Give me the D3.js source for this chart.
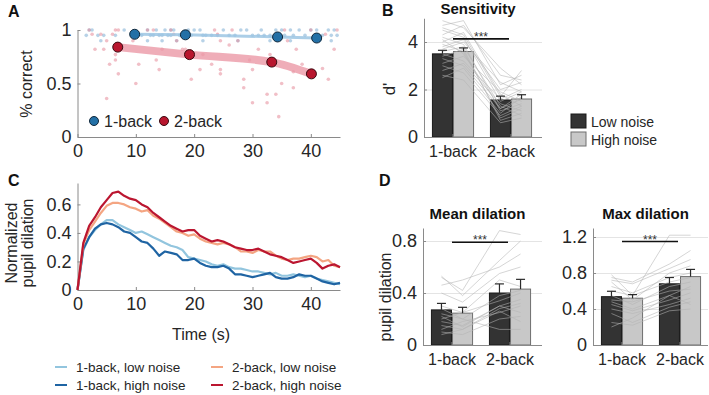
<!DOCTYPE html>
<html>
<head>
<meta charset="utf-8">
<script src="https://cdn.jsdelivr.net/npm/d3@7"></script>
<style>
  body { margin: 0; background: #fff; }
  svg { display: block; font-family: "Liberation Sans", Arial, sans-serif; }
</style>
</head>
<body>
<svg id="fig" width="709" height="395"></svg>
<script>
// ---- panel A: accuracy per trial position ----
const blueDotX = [2, 2.5, 8, 12, 13.5, 15, 16, 16.5, 19, 20, 21, 25, 28, 29, 31.5, 34, 35, 36.5, 38, 40, 41, 43, 44,
  1.5, 3.5, 4.5, 6.5, 9.5, 11, 12.5, 13, 14, 14.5, 15.5, 16, 17.5, 19.5, 21.5, 22, 23, 24, 26, 27, 30, 31, 32, 33, 35.5, 37, 39, 42, 43.5, 44.5,
  4, 12, 14.5, 17, 21.5, 27.5, 33, 36.5, 41.5, 43.5];
const blueDotY = [1, 1, 1, 1, 1, 1, 1, 1, 1, 1, 1, 1, 1, 1, 1, 1, 1, 1, 1, 1, 1, 1, 1,
  0.95, 0.95, 0.95, 0.95, 0.95, 0.95, 0.95, 0.95, 0.95, 0.95, 0.95, 0.95, 0.95, 0.95, 0.95, 0.95, 0.95, 0.95, 0.95, 0.95, 0.95, 0.95, 0.95, 0.95, 0.95, 0.95, 0.95, 0.95, 0.95, 0.95,
  0.9, 0.9, 0.9, 0.9, 0.9, 0.9, 0.9, 0.9, 0.9, 0.9];
const redDotX = [2, 2.5, 3, 4, 4.5, 5, 5.5, 5, 6, 6.5, 7, 6.5, 6.5, 7, 10, 9.5, 10.5, 12, 13, 13.5, 14, 14.5, 16, 16.5, 17,
  18, 18.5, 19.5, 21, 21.5, 23, 23.5, 24, 24.5, 24.5, 24.5, 26.5, 27.5, 28.5, 28.5, 30, 30, 31, 32.5, 32.5, 34, 34.5, 35,
  35.5, 36, 37, 37, 37.5, 38.5, 40, 42, 43, 44, 42.5, 44.5, 33, 29.5, 26];
const redDotY = [1, 0.96, 0.82, 0.96, 0.82, 0.9, 0.68, 0.36, 0.96, 1, 1, 0.77, 0.72, 0.59, 0.5, 0.9, 0.68, 1, 1, 0.72, 0.63, 0.82, 1, 0.96, 0.9,
  0.82, 0.82, 0.54, 0.63, 0.77, 0.68, 1, 0.96, 0.9, 0.63, 0.59, 1, 0.9, 0.46, 0.54, 0.63, 0.32, 0.82, 0.4, 0.32, 0.4, 0.19, 0.5,
  1, 0.9, 0.46, 0.61, 0.82, 0.68, 1, 0.64, 0.54, 0.82, 0.96, 1, 0.77, 0.72, 0.86];
const blueMeanX = [9.8, 18.5, 34.3, 41];
const blueMeanY = [0.96, 0.955, 0.935, 0.925];
const redMeanX = [6.9, 19.2, 33.3, 40.1];
const redMeanY = [0.84, 0.77, 0.70, 0.59];

// ---- panel C: pupil time courses ----
const timeSec = [0, 1, 2, 3, 4, 5, 6, 7, 8, 9, 10, 11, 12, 13, 14, 15, 16, 17, 18, 19, 20, 21, 22,
  23, 24, 25, 26, 27, 28, 29, 30, 31, 32, 33, 34, 35, 36, 37, 38, 39, 40, 41, 42, 43, 44, 45];
const oneBackLow = [0, 0.28, 0.37, 0.42, 0.46, 0.49, 0.49, 0.46, 0.44, 0.42, 0.40, 0.41, 0.39, 0.37, 0.35, 0.33, 0.31, 0.30, 0.28, 0.23, 0.22, 0.21, 0.20,
  0.18, 0.17, 0.18, 0.16, 0.15, 0.15, 0.14, 0.13, 0.13, 0.12, 0.11, 0.12, 0.10, 0.10, 0.11, 0.10, 0.09, 0.10, 0.08, 0.07, 0.06, 0.05, 0.04];
const oneBackHigh = [0, 0.29, 0.37, 0.43, 0.46, 0.47, 0.46, 0.44, 0.41, 0.40, 0.37, 0.34, 0.33, 0.29, 0.24, 0.27, 0.26, 0.25, 0.21, 0.21, 0.22, 0.19, 0.17,
  0.16, 0.16, 0.17, 0.15, 0.11, 0.11, 0.10, 0.09, 0.10, 0.11, 0.12, 0.09, 0.08, 0.08, 0.09, 0.11, 0.10, 0.10, 0.08, 0.06, 0.05, 0.04, 0.05];
const twoBackLow = [0, 0.32, 0.42, 0.48, 0.54, 0.59, 0.61, 0.61, 0.60, 0.58, 0.57, 0.55, 0.56, 0.52, 0.50, 0.47, 0.44, 0.41, 0.40, 0.38, 0.39, 0.36, 0.34,
  0.33, 0.32, 0.33, 0.32, 0.30, 0.27, 0.27, 0.26, 0.28, 0.27, 0.27, 0.24, 0.22, 0.21, 0.22, 0.22, 0.23, 0.24, 0.23, 0.20, 0.21, 0.17, 0.16];
const twoBackHigh = [0, 0.33, 0.45, 0.51, 0.58, 0.63, 0.68, 0.69, 0.66, 0.64, 0.63, 0.60, 0.58, 0.54, 0.51, 0.48, 0.45, 0.43, 0.41, 0.42, 0.42, 0.38, 0.36,
  0.34, 0.35, 0.34, 0.32, 0.30, 0.29, 0.28, 0.28, 0.29, 0.27, 0.25, 0.24, 0.23, 0.21, 0.19, 0.20, 0.21, 0.22, 0.19, 0.15, 0.17, 0.18, 0.16];
const seriesNames = ['1-back, low noise', '1-back, high noise', '2-back, low noise', '2-back, high noise'];
const seriesColors = ['#92c5de', '#1f64a3', '#f4a582', '#bb1630'];

// ---- panels B and D: bars (order: 1-back, 2-back) ----
const groups = ['1-back', '2-back'];
const noise = ['low', 'high'];
const sensLow = [3.5, 1.56], sensHigh = [3.6, 1.6];
const sensLowErr = [0.15, 0.16], sensHighErr = [0.15, 0.18];
const meanDilLow = [0.27, 0.40], meanDilHigh = [0.245, 0.43];
const meanDilLowErr = [0.05, 0.07], meanDilHighErr = [0.045, 0.075];
const maxDilLow = [0.537, 0.68], maxDilHigh = [0.52, 0.76];
const maxDilLowErr = [0.06, 0.07], maxDilHighErr = [0.04, 0.08];

// per subject: 1-back low, 1-back high, 2-back low, 2-back high
const sensSubjects = [
  [4.9, 4.6, 2.9, 2.2], [4.7, 4.9, 2.2, 2.6], [4.5, 4.2, 1.5, 1.9], [4.3, 4.7, 2.6, 2.4],
  [4.2, 3.9, 1.1, 1.4], [4.0, 4.4, 1.8, 1.3], [3.9, 3.6, 0.8, 1.2], [3.8, 4.1, 2.0, 2.3],
  [3.6, 3.8, 1.3, 0.9], [3.5, 3.2, 1.6, 2.0], [3.4, 3.7, 0.7, 1.0], [3.3, 3.0, 1.2, 1.6],
  [3.1, 3.4, 1.9, 1.5], [3.0, 2.7, 0.9, 1.3], [2.8, 3.1, 1.4, 1.1], [2.6, 2.4, 0.6, 0.8],
  [2.5, 2.9, 1.0, 1.7], [4.6, 4.3, 1.7, 2.8], [4.1, 3.5, 1.2, 1.8], [3.7, 4.0, 2.3, 1.9]
];
const meanDilSubjects = [
  [0.52, 0.42, 0.88, 0.85], [0.53, 0.38, 0.65, 0.80], [0.46, 0.50, 0.60, 0.70], [0.40, 0.33, 0.55, 0.60],
  [0.30, 0.25, 0.50, 0.45], [0.24, 0.20, 0.38, 0.42], [0.20, 0.25, 0.34, 0.40], [0.18, 0.15, 0.30, 0.35],
  [0.15, 0.12, 0.28, 0.32], [0.12, 0.18, 0.25, 0.30], [0.10, 0.08, 0.20, 0.22], [0.22, 0.14, 0.30, 0.25],
  [0.08, 0.12, 0.26, 0.18], [0.28, 0.20, 0.12, 0.12]
];
const maxDilSubjects = [
  [0.78, 0.55, 1.22, 1.22], [0.75, 0.70, 0.90, 1.05], [0.72, 0.68, 0.85, 0.95], [0.70, 0.50, 0.80, 0.88],
  [0.65, 0.58, 0.75, 0.80], [0.60, 0.55, 0.70, 0.75], [0.55, 0.45, 0.65, 0.70], [0.50, 0.48, 0.60, 0.62],
  [0.48, 0.40, 0.55, 0.65], [0.45, 0.38, 0.50, 0.58], [0.40, 0.35, 0.45, 0.52], [0.35, 0.25, 0.42, 0.48],
  [0.25, 0.22, 0.38, 0.40], [0.20, 0.30, 0.55, 0.45]
];

const svg = d3.select('#fig');
const AXIS = '#8a8a8a', TXT = '#262626', GRID = '#e4e4e4';
const DARK = '#333333', LIGHT = '#c8c8c8';

function styleAxis(a, size) {
  a.select('.domain').attr('stroke', AXIS);
  a.selectAll('.tick line').attr('stroke', AXIS);
  a.selectAll('.tick text').attr('fill', TXT).attr('font-size', size || 18).attr('font-family', null);
}

function panelLetter(txt, x, y) {
  svg.append('text').attr('x', x).attr('y', y).attr('font-size', 16).attr('font-weight', 'bold')
    .attr('fill', '#111').text(txt);
}

function yLabel(txt, x, y, size) {
  svg.append('text').attr('transform', `translate(${x},${y}) rotate(-90)`).attr('text-anchor', 'middle')
    .attr('font-size', size || 16).attr('fill', TXT).text(txt);
}

// ================= Panel A =================
{
  const x = d3.scaleLinear().domain([0, 45]).range([77.5, 340]);
  const y = d3.scaleLinear().domain([0, 1]).range([137, 30]);
  svg.append('g').attr('transform', 'translate(0,137)')
    .call(d3.axisBottom(x).tickValues([0, 10, 20, 30, 40]).tickSizeInner(-3).tickSizeOuter(0).tickPadding(7))
    .call(a => styleAxis(a));
  svg.append('g').attr('transform', 'translate(77.5,0)')
    .call(d3.axisLeft(y).tickValues([0, 0.5, 1]).tickFormat(d3.format('~g')).tickSizeInner(-3).tickSizeOuter(0).tickPadding(6))
    .call(a => styleAxis(a));

  const dots = svg.append('g');
  dots.selectAll('.bd').data(blueDotX).join('circle')
    .attr('cx', d => x(d)).attr('cy', (d, i) => y(blueDotY[i])).attr('r', 1.8)
    .attr('fill', '#6fa6cf').attr('opacity', 0.5);
  dots.selectAll('.rd').data(redDotX).join('circle')
    .attr('cx', d => x(d)).attr('cy', (d, i) => y(redDotY[i])).attr('r', 1.8)
    .attr('fill', '#e58a99').attr('opacity', 0.55);

  const line = d3.line().x(d => x(d[0])).y(d => y(d[1])).curve(d3.curveMonotoneX);
  svg.append('path').attr('d', line(blueMeanX.map((v, i) => [v, blueMeanY[i]])))
    .attr('fill', 'none').attr('stroke', '#9cc5e3').attr('stroke-width', 3).attr('opacity', 0.85);
  svg.append('path').attr('d', line(redMeanX.map((v, i) => [v, redMeanY[i]])))
    .attr('fill', 'none').attr('stroke', '#eb98a6').attr('stroke-width', 8).attr('opacity', 0.8);

  svg.selectAll('.bm').data(blueMeanX).join('circle')
    .attr('cx', d => x(d)).attr('cy', (d, i) => y(blueMeanY[i])).attr('r', 5)
    .attr('fill', '#2370a6').attr('stroke', '#10273a').attr('stroke-width', 1);
  svg.selectAll('.rm').data(redMeanX).join('circle')
    .attr('cx', d => x(d)).attr('cy', (d, i) => y(redMeanY[i])).attr('r', 5)
    .attr('fill', '#b8162e').attr('stroke', '#3a0a10').attr('stroke-width', 1);

  // legend
  const leg = [['1-back', '#2370a6', '#10273a', 94], ['2-back', '#b8162e', '#3a0a10', 164]];
  leg.forEach(([t, f, s, lx]) => {
    svg.append('circle').attr('cx', lx).attr('cy', 121).attr('r', 4.5).attr('fill', f).attr('stroke', s);
    svg.append('text').attr('x', lx + 10).attr('y', 127).attr('font-size', 16).attr('fill', TXT).text(t);
  });

  yLabel('% correct', 32, 84, 16);
  panelLetter('A', 8, 17);
}

// ================= Panel C =================
{
  const x = d3.scaleLinear().domain([0, 45]).range([77.5, 340]);
  const y = d3.scaleLinear().domain([0, 0.75]).range([290, 183]);
  svg.append('g').attr('transform', 'translate(0,290)')
    .call(d3.axisBottom(x).tickValues([0, 10, 20, 30, 40]).tickSizeInner(-3).tickSizeOuter(0).tickPadding(7))
    .call(a => styleAxis(a));
  svg.append('g').attr('transform', 'translate(77.5,0)')
    .call(d3.axisLeft(y).tickValues([0, 0.2, 0.4, 0.6]).tickFormat(d3.format('~g')).tickSizeInner(-3).tickSizeOuter(0).tickPadding(6))
    .call(a => styleAxis(a));

  const series = [oneBackLow, oneBackHigh, twoBackLow, twoBackHigh];
  const line = d3.line().x((d, i) => x(timeSec[i])).y(d => y(d));
  series.forEach((s, k) => {
    svg.append('path').attr('d', line(s)).attr('fill', 'none')
      .attr('stroke', seriesColors[k]).attr('stroke-width', 2.2).attr('stroke-linejoin', 'round');
  });

  svg.append('text').attr('x', 201).attr('y', 340).attr('text-anchor', 'middle')
    .attr('font-size', 16).attr('fill', TXT).text('Time (s)');

  // legend, two columns
  const legPos = [[55, 367], [55, 385], [211, 367], [211, 385]];
  seriesNames.forEach((n, k) => {
    const [lx, ly] = legPos[k];
    svg.append('line').attr('x1', lx).attr('x2', lx + 12).attr('y1', ly).attr('y2', ly)
      .attr('stroke', seriesColors[k]).attr('stroke-width', 2);
    svg.append('text').attr('x', lx + 21).attr('y', ly + 5).attr('font-size', 13.5)
      .attr('fill', TXT).text(n);
  });

  yLabel('Normalized', 17, 243, 16);
  yLabel('pupil dilation', 33, 243, 16);
  panelLetter('C', 8, 186);
}

// ================= Bar panels (B, D) =================
function barPanel(cfg) {
  const x = d3.scaleBand().domain(groups).range([cfg.left, cfg.right]);
  const xs = d3.scaleBand().domain(noise).range([0, x.bandwidth()]).paddingInner(0.05).paddingOuter(0.4);
  const y = d3.scaleLinear().domain(cfg.yDomain).range([cfg.bottom, cfg.top]);
  const cx = (g, n) => x(g) + xs(n) + xs.bandwidth() / 2;
  const g = svg.append('g');

  // grid
  g.append('g').attr('transform', `translate(${cfg.left},0)`)
    .call(d3.axisLeft(y).tickValues(cfg.ticks.filter(t => t > 0)).tickSize(-(cfg.axisEnd - cfg.left)).tickFormat(''))
    .call(a => { a.select('.domain').remove(); a.selectAll('line').attr('stroke', GRID); });

  const rows = [];
  groups.forEach((grp, i) => noise.forEach(n => {
    rows.push({ grp, n, v: cfg.means[n][i], e: cfg.errs[n][i] });
  }));

  g.selectAll('.bar').data(rows).join('rect')
    .attr('x', d => x(d.grp) + xs(d.n)).attr('width', xs.bandwidth())
    .attr('y', d => y(d.v)).attr('height', d => y(0) - y(d.v))
    .attr('fill', d => d.n === 'low' ? DARK : LIGHT)
    .attr('stroke', d => d.n === 'low' ? '#1a1a1a' : '#6e6e6e').attr('stroke-width', 1);

  // individual subjects
  const order = [['1-back', 'low'], ['1-back', 'high'], ['2-back', 'low'], ['2-back', 'high']];
  const sl = d3.line().x((d, i) => cx(order[i][0], order[i][1])).y(d => y(d));
  g.selectAll('.subj').data(cfg.subjects).join('path')
    .attr('d', d => sl(d)).attr('fill', 'none').attr('stroke', '#b4b4b4')
    .attr('stroke-width', 0.8).attr('opacity', 0.7);

  // error bars
  const eb = g.selectAll('.eb').data(rows).join('g');
  eb.append('line').attr('x1', d => cx(d.grp, d.n)).attr('x2', d => cx(d.grp, d.n))
    .attr('y1', d => y(d.v)).attr('y2', d => y(d.v + d.e)).attr('stroke', '#2b2b2b').attr('stroke-width', 1.2);
  eb.append('line').attr('x1', d => cx(d.grp, d.n) - 4.5).attr('x2', d => cx(d.grp, d.n) + 4.5)
    .attr('y1', d => y(d.v + d.e)).attr('y2', d => y(d.v + d.e)).attr('stroke', '#2b2b2b').attr('stroke-width', 1.2);

  // axes
  g.append('g').attr('transform', `translate(0,${cfg.bottom})`)
    .call(d3.axisBottom(x).tickSizeInner(-3).tickSizeOuter(0).tickPadding(9))
    .call(a => { styleAxis(a, 16); a.select('.domain').attr('d', `M${cfg.left},0.5H${cfg.axisEnd}`); });
  g.append('g').attr('transform', `translate(${cfg.left},0)`)
    .call(d3.axisLeft(y).tickValues(cfg.ticks).tickFormat(d3.format('~g')).tickSizeInner(-3).tickSizeOuter(0).tickPadding(6))
    .call(a => styleAxis(a));

  // significance
  const x1 = x('1-back') + x.bandwidth() / 2, x2 = x('2-back') + x.bandwidth() / 2 - 2;
  g.append('line').attr('x1', x1).attr('x2', x2).attr('y1', y(cfg.sig)).attr('y2', y(cfg.sig))
    .attr('stroke', '#111').attr('stroke-width', 1.6);
  g.append('text').attr('x', (x1 + x2) / 2).attr('y', y(cfg.sig) + 2).attr('text-anchor', 'middle')
    .attr('font-size', 12).attr('fill', '#333').text('***');

  g.append('text').attr('x', (cfg.left + cfg.axisEnd) / 2 - 5).attr('y', cfg.titleY).attr('text-anchor', 'middle')
    .attr('font-size', 15).attr('font-weight', 'bold').attr('fill', '#111').text(cfg.title);
}

barPanel({
  left: 424, right: 540, axisEnd: 542, bottom: 137, top: 18.25, yDomain: [0, 5], ticks: [0, 2, 4],
  means: { low: sensLow, high: sensHigh }, errs: { low: sensLowErr, high: sensHighErr },
  subjects: sensSubjects, sig: 4.13, title: 'Sensitivity', titleY: 14
});
barPanel({
  left: 423, right: 539, axisEnd: 542, bottom: 345, top: 228, yDomain: [0, 0.9], ticks: [0, 0.4, 0.8],
  means: { low: meanDilLow, high: meanDilHigh }, errs: { low: meanDilLowErr, high: meanDilHighErr },
  subjects: meanDilSubjects, sig: 0.79, title: 'Mean dilation', titleY: 219
});
barPanel({
  left: 593, right: 709, axisEnd: 708, bottom: 345, top: 228, yDomain: [0, 1.3], ticks: [0, 0.4, 0.8, 1.2],
  means: { low: maxDilLow, high: maxDilHigh }, errs: { low: maxDilLowErr, high: maxDilHighErr },
  subjects: maxDilSubjects, sig: 1.15, title: 'Max dilation', titleY: 219
});

yLabel("d'", 395, 89, 17);
yLabel('pupil dilation', 391, 297, 16);
panelLetter('B', 382, 16);
panelLetter('D', 379, 186);

// legend for noise levels
[['Low noise', DARK, '#1a1a1a', 114], ['High noise', LIGHT, '#6e6e6e', 132]].forEach(([t, f, s, ly]) => {
  svg.append('rect').attr('x', 571).attr('y', ly).attr('width', 15).attr('height', 14)
    .attr('fill', f).attr('stroke', s);
  svg.append('text').attr('x', 591).attr('y', ly + 13).attr('font-size', 14).attr('fill', TXT).text(t);
});
</script>
</body>
</html>
